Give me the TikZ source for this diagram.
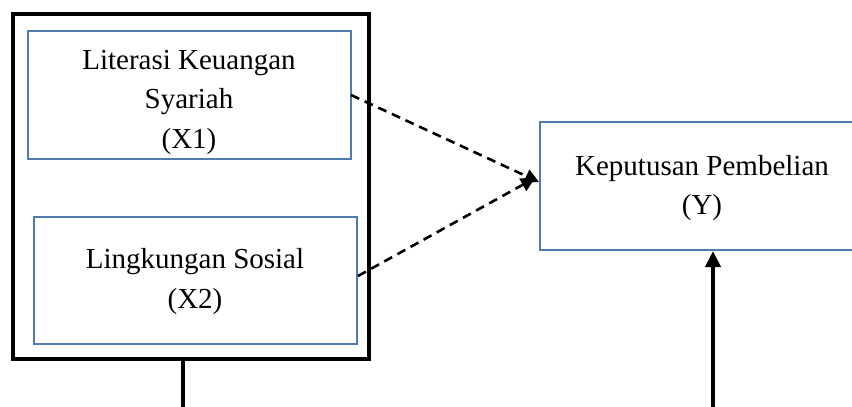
\documentclass[tikz,border=0pt]{standalone}
\usepackage{fontspec}
\setmainfont{Liberation Serif}
\usetikzlibrary{arrows.meta}
\definecolor{boxblue}{RGB}{79,124,172}
\tikzset{
  varbox/.style={draw=boxblue, line width=2pt, inner sep=0pt},
  vartext/.style={inner sep=0pt, align=center, font=\fontsize{29}{39.5}\selectfont},
  groupbox/.style={draw=black, line width=4pt, inner sep=0pt},
  dashedarrow/.style={line width=2.6pt, dash pattern=on 9pt off 6pt,
    -{Triangle[length=14pt,width=14pt]}},
  solidarrow/.style={line width=4pt, -{Triangle[length=16pt,width=15pt]}},
  solidline/.style={line width=4pt}
}
\begin{document}
\begin{tikzpicture}[x=1pt,y=-1pt]
\useasboundingbox (0,0) rectangle (852,407);
\node[groupbox, minimum width=356pt, minimum height=345pt] (outer) at (191,186.5) {};
\node[varbox, minimum width=323pt, minimum height=128pt] (x1) at (189.5,95) {};
\node[vartext] (x1t) at (189,102) {Literasi Keuangan\\Syariah\\(X1)};
\node[varbox, minimum width=323pt, minimum height=127pt] (x2) at (195.5,280.5) {};
\node[vartext] (x2t) at (195,281.5) {Lingkungan Sosial\\(X2)};
\node[varbox, minimum width=326pt, minimum height=128pt] (y) at (703,186) {};
\node[vartext] (yt) at (702,188) {Keputusan Pembelian\\(Y)};
\coordinate (xbot) at (183,407);
\coordinate (ybot) at (713,407);
\draw[solidline] (outer.south -| xbot) -- (xbot);
\draw[solidarrow] (ybot) -- (ybot |- y.south);
\draw[dashedarrow] ([xshift=-1pt]x1.east |- 0,95) -- ([yshift=4pt]y.west);
\draw[dashedarrow] ([yshift=4.5pt]x2.east) -- ([xshift=-4pt,yshift=8pt]y.west);
\end{tikzpicture}
\end{document}
